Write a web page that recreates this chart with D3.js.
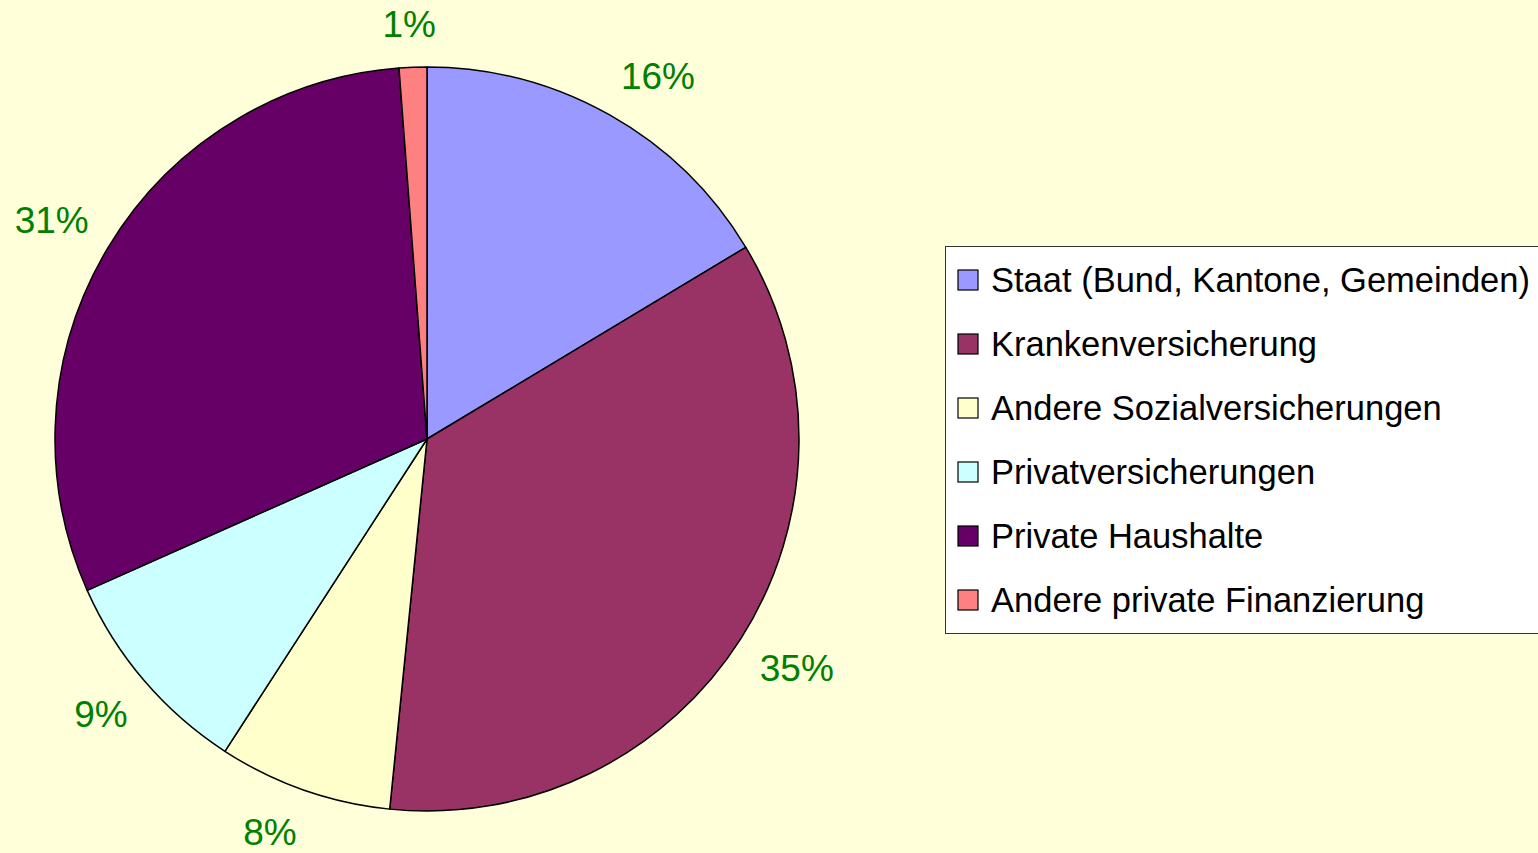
<!DOCTYPE html>
<html>
<head>
<meta charset="utf-8">
<script src="https://cdn.jsdelivr.net/npm/d3@7"></script>
<style>
  html, body { margin: 0; padding: 0; background: #FFFFD9; overflow: hidden; }
  svg { display: block; font-family: "Liberation Sans", Arial, sans-serif; }
</style>
</head>
<body>
<div id="chart"></div>
<script>
// shares in percent
var categories = ["Staat (Bund, Kantone, Gemeinden)", "Krankenversicherung", "Andere Sozialversicherungen",
                  "Privatversicherungen", "Private Haushalte", "Andere private Finanzierung"];
var values = [16.4, 35.25, 7.55, 9.2, 30.5, 1.2];
var colors = ["#9999FF", "#993366", "#FFFFCC", "#CCFFFF", "#660066", "#FF8080"];

var width = 1538, height = 853;
var cx = 427, cy = 439, radius = 372, labelRadius = 394;
var pctFont = 37, legendFont = 34.5;

var svg = d3.select("#chart").append("svg")
    .attr("width", width)
    .attr("height", height);

svg.append("rect")
    .attr("width", width)
    .attr("height", height)
    .attr("fill", "#FFFFD9");

var data = categories.map(function(c, i) { return {name: c, value: values[i], color: colors[i]}; });

var pie = d3.pie()
    .sort(null)
    .value(function(d) { return d.value; });

var arc = d3.arc()
    .innerRadius(0)
    .outerRadius(radius);

var g = svg.append("g")
    .attr("transform", "translate(" + cx + "," + cy + ")");

var arcs = pie(data);

g.selectAll("path")
    .data(arcs)
    .enter().append("path")
    .attr("d", arc)
    .attr("fill", function(d) { return d.data.color; })
    .attr("stroke", "#000")
    .attr("stroke-width", 1.5)
    .attr("stroke-linejoin", "round");

// percent labels: the box hangs off a point just outside the rim, on the side facing away from the centre
var clamp = function(v) { return Math.max(-1, Math.min(1, v * 3)); };
var capH = pctFont * 0.716;

var labels = g.selectAll("text.pct")
    .data(arcs)
    .enter().append("text")
    .attr("class", "pct")
    .attr("text-anchor", "middle")
    .attr("fill", "#008000")
    .style("font-size", pctFont + "px")
    .text(function(d) { return Math.round(d.data.value) + "%"; });

labels.each(function(d) {
    var w = this.getComputedTextLength();
    var a = (d.startAngle + d.endAngle) / 2;
    var s = Math.sin(a), c = Math.cos(a);
    var px = labelRadius * s, py = -labelRadius * c;
    var bx = px + w / 2 * clamp(s);
    var by = py - capH / 2 * clamp(c) - 8 * c;
    d3.select(this)
        .attr("x", bx)
        .attr("y", by + capH / 2);
});

// legend
var legend = svg.append("g")
    .attr("transform", "translate(945,246)");

legend.append("rect")
    .attr("x", 0.5)
    .attr("y", 0.5)
    .attr("width", 620)
    .attr("height", 387)
    .attr("fill", "#FFFFFF")
    .attr("stroke", "#333")
    .attr("stroke-width", 1);

var item = legend.selectAll("g.item")
    .data(data)
    .enter().append("g")
    .attr("class", "item")
    .attr("transform", function(d, i) { return "translate(0," + (34 + i * 64) + ")"; });

item.append("rect")
    .attr("x", 13)
    .attr("y", -10)
    .attr("width", 20)
    .attr("height", 20)
    .attr("fill", function(d) { return d.color; })
    .attr("stroke", "#000")
    .attr("stroke-width", 1.2);

item.append("text")
    .attr("x", 46)
    .attr("y", legendFont * 0.716 / 2)
    .attr("fill", "#000")
    .style("font-size", legendFont + "px")
    .text(function(d) { return d.name; });
</script>
</body>
</html>
